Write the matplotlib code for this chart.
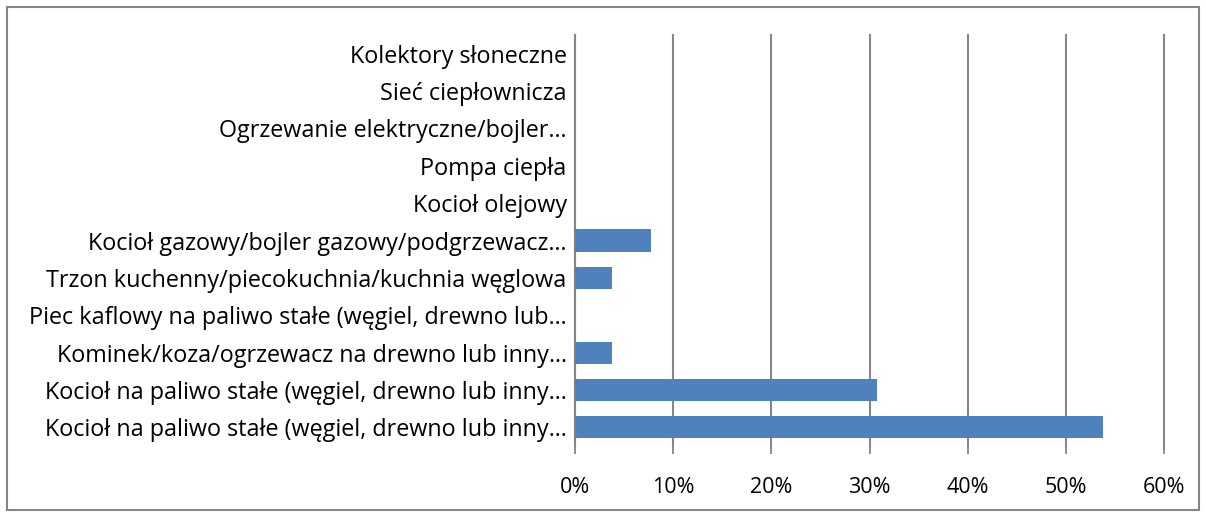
import matplotlib
matplotlib.use("Agg")
import matplotlib.pyplot as plt
from matplotlib.patches import Rectangle
from matplotlib.ticker import FuncFormatter

# kategorie od góry do dołu
KATEGORIE = [
    "Kolektory słoneczne",
    "Sieć ciepłownicza",
    "Ogrzewanie elektryczne/bojler…",
    "Pompa ciepła",
    "Kocioł olejowy",
    "Kocioł gazowy/bojler gazowy/podgrzewacz…",
    "Trzon kuchenny/piecokuchnia/kuchnia węglowa",
    "Piec kaflowy na paliwo stałe (węgiel, drewno lub…",
    "Kominek/koza/ogrzewacz na drewno lub inny…",
    "Kocioł na paliwo stałe (węgiel, drewno lub inny…",
    "Kocioł na paliwo stałe (węgiel, drewno lub inny…",
]
UDZIAL = [0, 0, 0, 0, 0, 0.077, 0.038, 0, 0.038, 0.308, 0.538]
TICKI = [0, 0.1, 0.2, 0.3, 0.4, 0.5, 0.6]

SZARY = "#868686"
plt.rcParams["font.family"] = ["Open Sans", "DejaVu Sans"]

fig = plt.figure(figsize=(12.06, 5.15), dpi=100)
ax = fig.add_axes([0.4768, 0.134, 0.4884, 0.798])

pos = list(range(len(KATEGORIE)))[::-1]
ax.barh(pos, UDZIAL, height=0.59, color="#4F81BD", zorder=3)

ax.set_xlim(0, 0.6)
ax.set_ylim(-0.5, len(KATEGORIE) - 0.5)
ax.set_yticks(pos)
ax.set_yticklabels(KATEGORIE, fontsize=16.8)
ax.set_xticks(TICKI)
ax.xaxis.set_major_formatter(FuncFormatter(lambda v, _: f"{v*100:.0f}%"))
ax.tick_params(axis="x", labelsize=15.5, length=6, color=SZARY, width=1.3,
               pad=16, direction="out")
ax.tick_params(axis="y", length=0, pad=6)

ax.grid(axis="x", color=SZARY, linewidth=1.5, zorder=0)
for g in ax.get_xgridlines():
    g.set_clip_on(False)
for s in ["top", "right", "bottom"]:
    ax.spines[s].set_visible(False)
ax.spines["left"].set_color(SZARY)
ax.spines["left"].set_linewidth(1.5)

# ramka wokół całego wykresu
fig.patches.append(Rectangle((0.006, 0.01), 0.988, 0.977, transform=fig.transFigure,
                             fill=False, edgecolor=SZARY, linewidth=1.5))

fig.savefig("out.png", dpi=100)
